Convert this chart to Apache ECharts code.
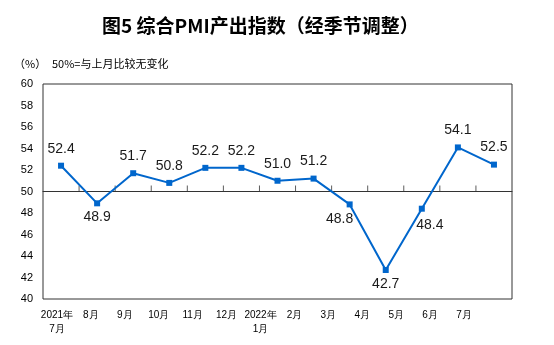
<!DOCTYPE html>
<html><head><meta charset="utf-8">
<script src="https://cdn.jsdelivr.net/npm/echarts@6/dist/echarts.min.js"></script>
<style>html,body{margin:0;padding:0;background:#fff}#c{width:554px;height:345px}</style>
</head><body><div id="c"></div>
<script>
var categories = ['2021年\n7月','8月','9月','10月','11月','12月','2022年\n1月','2月','3月','4月','5月','6月','7月'];
var values = [52.4, 48.9, 51.7, 50.8, 52.2, 52.2, 51.0, 51.2, 48.8, 42.7, 48.4, 54.1, 52.5];
var yTicks = {min: 40, max: 60, interval: 2};
var baseline = 50;
var labelPlacement = ['top','bottom','top','top','top','top','top','top','bottomLeft','bottom','bottomRight','top','top'];

var chart = echarts.init(document.getElementById('c'), null, {renderer: 'canvas'});
var GT = 84, GH = 215, TICK = 6;
var baseH = GH * (yTicks.max - baseline) / (yTicks.max - yTicks.min);
function lbl(p) {
  if (p === 'top') return {position: 'top', distance: 7};
  if (p === 'bottom') return {position: 'bottom', distance: 4};
  if (p === 'bottomLeft') return {position: 'bottom', distance: 5, offset: [-10, 0]};
  if (p === 'bottomRight') return {position: 'bottom', distance: 6, offset: [8, 0]};
}
var seriesData = values.map(function (v, i) { return {value: v, label: lbl(labelPlacement[i])}; });
var boundaryTicks = [];
for (var b = 1; b < categories.length; b++) boundaryTicks.push([b, 0.5]);

chart.setOption({
  animation: false,
  backgroundColor: '#fff',
  title: {
    text: '图5 综合PMI产出指数（经季节调整）',
    left: 97, top: 11,
    textStyle: {fontFamily: 'Noto Sans CJK SC', fontSize: 19, fontWeight: 'bold', color: '#000'}
  },
  graphic: [
    {type: 'text', left: 14, top: 58, style: {text: '（%）', font: '11px "Noto Sans CJK SC"', fill: '#000'}},
    {type: 'text', left: 52, top: 58, style: {text: '50%=与上月比较无变化', font: '11px "Noto Sans CJK SC"', fill: '#000'}}
  ],
  grid: [
    {left: 43, width: 469, top: GT, height: GH, show: true, borderColor: '#333', borderWidth: 1, backgroundColor: 'transparent'},
    {left: 40, width: 441, top: GT, height: GH, show: false},
    {left: 43, width: 469, top: GT + baseH - TICK, height: TICK, show: false}
  ],
  xAxis: [
    {type: 'category', gridIndex: 0, data: categories, boundaryGap: true,
     axisLine: {show: false}, axisTick: {show: false}, axisLabel: {show: false}},
    {type: 'value', gridIndex: 2, min: 0, max: categories.length, interval: 1, position: 'bottom',
     splitLine: {show: false},
     axisLine: {show: true, onZero: false, lineStyle: {color: '#333', width: 1}},
     axisTick: {show: false}, axisLabel: {show: false}},
    {type: 'category', gridIndex: 1, data: categories, boundaryGap: true,
     axisLine: {show: false}, axisTick: {show: false},
     axisLabel: {show: true, margin: 9, interval: 0, fontFamily: 'Liberation Sans', fontSize: 10, lineHeight: 14, color: '#000'}}
  ],
  yAxis: [
    {type: 'value', gridIndex: 0, min: yTicks.min, max: yTicks.max, interval: yTicks.interval,
     axisLine: {show: false}, axisTick: {show: false}, splitLine: {show: false},
     axisLabel: {margin: 10, fontFamily: 'Liberation Sans', fontSize: 11, color: '#000'}},
    {type: 'value', gridIndex: 1, min: yTicks.min, max: yTicks.max, show: false},
    {type: 'value', gridIndex: 2, min: 0, max: 1, show: false}
  ],
  series: [{
    type: 'line', xAxisIndex: 0, yAxisIndex: 0, data: seriesData, z: 3,
    symbol: 'rect', symbolSize: 6,
    lineStyle: {color: '#0066CC', width: 2},
    itemStyle: {color: '#0066CC'},
    label: {show: true, fontFamily: 'Liberation Sans', fontSize: 14, color: '#1a1a1a',
      formatter: function (p) { return p.value.toFixed(1); }}
  }, {
    type: 'scatter', xAxisIndex: 1, yAxisIndex: 2, data: boundaryTicks, z: 2,
    symbol: 'rect', symbolSize: [1, TICK], silent: true,
    itemStyle: {color: '#333'}, label: {show: false}
  }]
});
</script></body></html>
